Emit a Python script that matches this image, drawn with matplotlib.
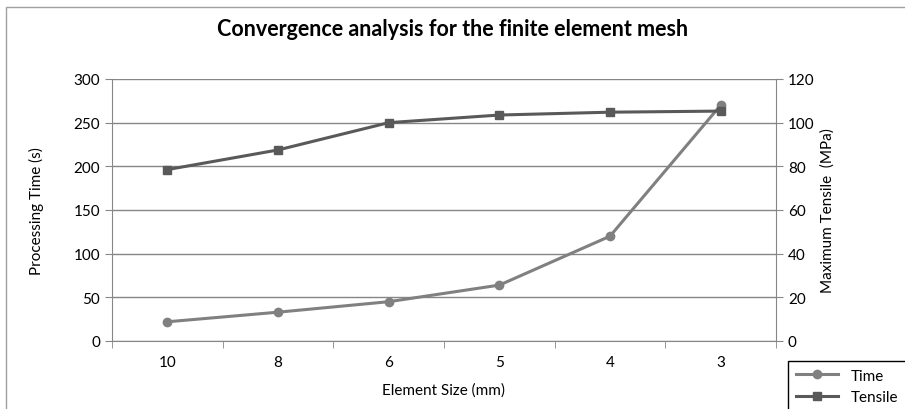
import numpy as np
import matplotlib
matplotlib.use('Agg')
import matplotlib.pyplot as plt
from matplotlib.patches import Rectangle

plt.rcParams['font.family'] = ['Lato', 'DejaVu Sans']

# data
sizes = ['10', '8', '6', '5', '4', '3']
time_s = [22, 33, 45, 64, 120, 270]
tensile = [78.5, 87.5, 100, 103.5, 104.8, 105.3]

fig = plt.figure(figsize=(9.05, 4.10), dpi=100)

# outer chart border (cut off at right/bottom like the screenshot)
fig.patches.append(Rectangle((6/905, -0.1), 1.1, 1 - 8/410 + 0.1, transform=fig.transFigure,
                             fill=False, edgecolor='#a0a0a0', linewidth=1))

ax = fig.add_axes([112/905, 1 - 342/410, 664/905, 262/410])
x = np.arange(len(sizes))

ax.plot(x, time_s, color='#808080', lw=2.2, marker='o', ms=6, label='Time')
ax.set_ylim(0, 300)
ax.set_yticks(range(0, 301, 50))
ax.set_xlim(-0.5, len(sizes) - 0.5)
ax.set_xticks(x)
ax.set_xticklabels(sizes)
ax.set_xticks(np.arange(-0.5, len(sizes)), minor=True)
ax.tick_params(axis='x', which='major', length=0, pad=10)
ax.tick_params(axis='x', which='minor', length=5, color='#868686')
ax.tick_params(axis='y', length=5, color='#868686', labelsize=11)
ax.tick_params(axis='x', labelsize=11)
ax.grid(axis='y', color='#868686', lw=1)
ax.set_axisbelow(True)
for s in ['top', 'right']:
    ax.spines[s].set_visible(False)
for s in ['left', 'bottom']:
    ax.spines[s].set_color('#868686')
ax.set_ylabel('Processing Time (s)', fontsize=11, labelpad=21)
ax.set_xlabel('Element Size (mm)', fontsize=11, labelpad=10)

ax2 = ax.twinx()
ax2.plot(x, tensile, color='#595959', lw=2.2, marker='s', ms=6, label='Tensile')
ax2.set_ylim(0, 120)
ax2.set_yticks(range(0, 121, 20))
ax2.tick_params(axis='y', length=5, color='#868686', labelsize=11)
for s in ['top', 'left', 'bottom']:
    ax2.spines[s].set_visible(False)
ax2.spines['right'].set_color('#868686')
ax2.set_ylabel('Maximum Tensile  (MPa)', fontsize=11, labelpad=4)

fig.text(0.5, 1 - 30/410, 'Convergence analysis for the finite element mesh',
         ha='center', va='center', fontsize=15.5, fontweight='bold')

h1, l1 = ax.get_legend_handles_labels()
h2, l2 = ax2.get_legend_handles_labels()
leg = fig.legend(h1 + h2, l1 + l2, loc='upper left', bbox_to_anchor=(788/905, 1 - 362/410),
                 fancybox=False, edgecolor='black', fontsize=11, handlelength=2.8,
                 borderaxespad=0, labelspacing=0.5, borderpad=0.5, framealpha=1)
leg.get_frame().set_linewidth(1)

plt.savefig('out.png', dpi=100)
